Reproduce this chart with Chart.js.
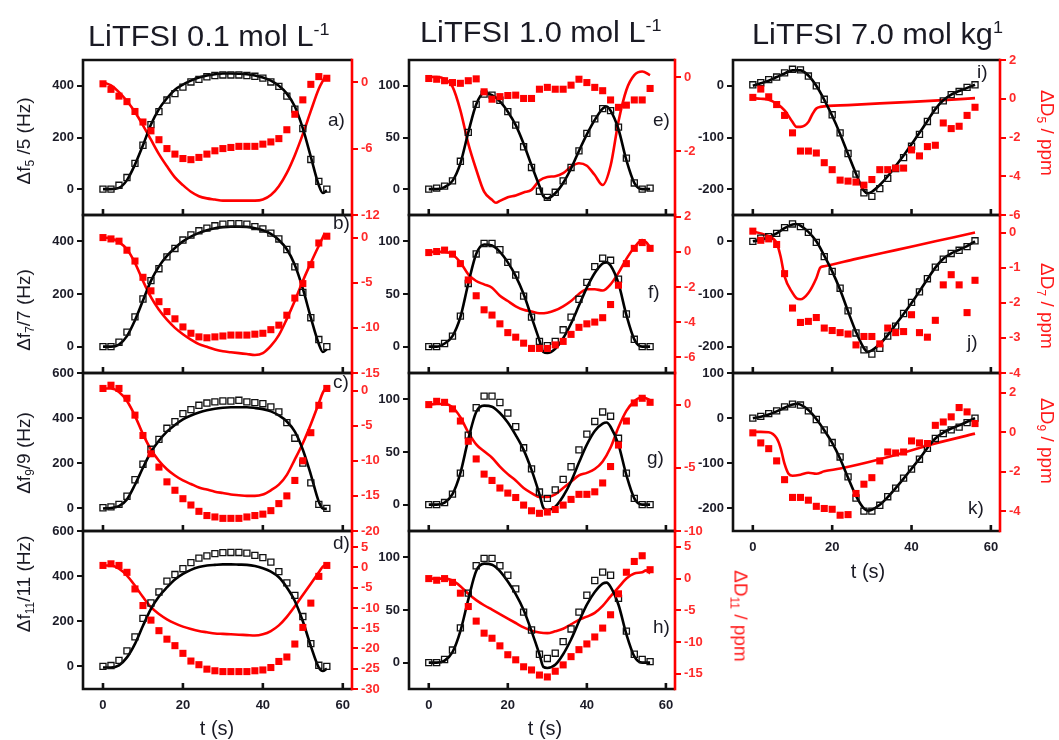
<!DOCTYPE html>
<html>
<head>
<meta charset="utf-8">
<script src="https://cdn.jsdelivr.net/npm/chart.js@4.4.1/dist/chart.umd.min.js"></script>
<style>
  html, body { margin: 0; padding: 0; background: #fff; }
  #wrap { position: relative; width: 1059px; height: 740px; overflow: hidden;
          font-family: "Liberation Sans", Arial, sans-serif; }
  #wrap canvas { position: absolute; left: 0; top: 0; }
  .txt { position: absolute; white-space: nowrap; line-height: 1; color: #1a1a24; }
  .title { font-size: 29px; transform: scaleX(1.06); transform-origin: 0 0; }
  .title .sup { font-size: 17px; position: relative; top: -11px; }
  .ylab { font-size: 19px; transform: translate(-50%, -50%) rotate(-90deg); }
  .rlab { font-size: 19px; color: #ff1a1a; transform: translate(-50%, -50%) rotate(90deg); }
  .sub { font-size: 12px; position: relative; top: 4px; }
  .xlab { font-size: 20px; transform: translateX(-50%); }
  .plab { font-size: 19px; }
</style>
</head>
<body>
<div id="wrap">
  <div class="txt title" style="left:88px;top:22px">LiTFSI 0.1 mol L<span class="sup">-1</span></div>
  <div class="txt title" style="left:420px;top:18px">LiTFSI 1.0 mol L<span class="sup">-1</span></div>
  <div class="txt title" style="left:752px;top:20px">LiTFSI 7.0 mol kg<span class="sup">1</span></div>

  <div class="txt ylab" style="left:23px;top:141px">Δf<span class="sub">5</span> /5 (Hz)</div>
  <div class="txt ylab" style="left:23px;top:310px">Δf<span class="sub">7</span>/7 (Hz)</div>
  <div class="txt ylab" style="left:23px;top:453px">Δf<span class="sub">9</span>/9 (Hz)</div>
  <div class="txt ylab" style="left:23px;top:584px">Δf<span class="sub">11</span>/11 (Hz)</div>

  <div class="txt rlab" style="left:1047px;top:133px">ΔD<span class="sub">5</span> / ppm</div>
  <div class="txt rlab" style="left:1047px;top:306px">ΔD<span class="sub">7</span> / ppm</div>
  <div class="txt rlab" style="left:1047px;top:441px">ΔD<span class="sub">9</span> / ppm</div>
  <div class="txt rlab" style="left:741px;top:616px">ΔD<span class="sub">11</span> / ppm</div>

  <div class="txt xlab" style="left:217px;top:718px">t (s)</div>
  <div class="txt xlab" style="left:545px;top:718px">t (s)</div>
  <div class="txt xlab" style="left:868px;top:561px">t (s)</div>

  <div class="txt plab" style="left:328px;top:110px">a)</div>
  <div class="txt plab" style="left:333px;top:213px">b)</div>
  <div class="txt plab" style="left:333px;top:372px">c)</div>
  <div class="txt plab" style="left:333px;top:533px">d)</div>
  <div class="txt plab" style="left:653px;top:110px">e)</div>
  <div class="txt plab" style="left:648px;top:282px">f)</div>
  <div class="txt plab" style="left:647px;top:448px">g)</div>
  <div class="txt plab" style="left:653px;top:617px">h)</div>
  <div class="txt plab" style="left:977px;top:62px">i)</div>
  <div class="txt plab" style="left:967px;top:332px">j)</div>
  <div class="txt plab" style="left:968px;top:498px">k)</div>
</div>

<script>
// Sampling times of the measured points (s)
const TIMES = [0,2,4,6,8,10,12,14,16,18,20,22,24,26,28,30,32,34,36,38,40,42,44,46,48,50,52,54,56];
const X_TICKS = [0, 20, 40, 60];

// ---------- LiTFSI 0.1 mol/L ----------
// a) Δf5/5 and ΔD5
const A_F_SQ = [0,0,15,45,100,170,250,300,345,370,395,415,425,435,440,442,442,442,440,437,430,415,398,360,310,235,115,30,0];
const A_F_FIT = [[0,0],[2,0],[4,5],[6,35],[8,95],[10,170],[12,250],[14,310],[16,352],[18,385],[20,405],[22,420],[24,432],[26,440],[28,445],[30,448],[32,448],[34,447],[36,445],[38,440],[40,432],[42,420],[44,400],[46,370],[48,320],[50,235],[52,125],[54,15],[55,-15],[56,-5]];
const A_D_SQ = [-0.15,-0.65,-1.26,-1.76,-2.65,-3.6,-4.4,-5.2,-6.0,-6.5,-6.9,-7.0,-6.8,-6.5,-6.2,-6.0,-5.9,-5.8,-5.8,-5.8,-5.6,-5.4,-5.1,-4.3,-2.9,-1.6,-0.2,0.5,0.35];
const A_D_FIT = [[0,0],[2,-0.3],[4,-0.9],[6,-1.7],[8,-2.7],[10,-3.9],[12,-5.2],[14,-6.5],[16,-7.6],[18,-8.6],[20,-9.3],[22,-9.9],[24,-10.3],[26,-10.5],[28,-10.6],[30,-10.7],[32,-10.7],[34,-10.7],[36,-10.7],[38,-10.7],[40,-10.6],[42,-10.2],[44,-9.4],[46,-8.2],[48,-6.6],[50,-4.7],[52,-2.6],[54,-0.6],[55.5,0.45]];
const A_F_TICKS = [0,200,400];
const A_D_TICKS = [0,-6,-12];

// b) Δf7/7 and ΔD7
const B_F_SQ = [0,0,17,55,113,181,251,296,341,373,405,424,440,450,459,465,467,467,465,456,447,431,409,369,303,206,110,27,0];
const B_F_FIT = [[0,0],[2,0],[4,8],[6,40],[8,100],[10,175],[12,250],[14,305],[16,345],[18,375],[20,400],[22,418],[24,432],[26,442],[28,450],[30,454],[32,456],[34,456],[36,455],[38,450],[40,442],[42,428],[44,405],[46,370],[48,310],[50,220],[52,110],[54,10],[55,-20],[56,-10]];
const B_D_SQ = [0,-0.15,-0.4,-1.4,-2.6,-4.4,-5.9,-7.1,-8.2,-9.0,-9.9,-10.6,-11.0,-11.1,-11.0,-10.9,-10.8,-10.8,-10.8,-10.7,-10.6,-10.2,-9.7,-8.6,-6.7,-5.1,-3.0,-0.6,0.15];
const B_D_FIT = [[0,0],[2,-0.1],[4,-0.5],[6,-1.3],[8,-2.8],[10,-4.8],[12,-6.6],[14,-8.0],[16,-9.1],[18,-10.0],[20,-10.7],[22,-11.3],[24,-11.8],[26,-12.1],[28,-12.4],[30,-12.6],[32,-12.7],[34,-12.8],[36,-12.9],[38,-13.0],[40,-12.8],[42,-12.0],[44,-10.8],[46,-9.0],[48,-7.0],[50,-4.8],[52,-2.8],[54,-0.9],[55.5,0.5]];
const B_F_TICKS = [0,200,400];
const B_D_TICKS = [0,-5,-10,-15];

// c) Δf9/9 and ΔD9
const C_F_SQ = [3,7,18,54,127,196,262,306,355,384,420,438,457,467,472,476,476,479,472,469,464,450,428,380,311,201,113,18,0];
const C_F_FIT = [[0,0],[2,2],[4,10],[6,40],[8,105],[10,180],[12,250],[14,300],[16,340],[18,370],[20,395],[22,412],[24,425],[26,435],[28,442],[30,446],[32,448],[34,448],[36,448],[38,445],[40,440],[42,430],[44,412],[46,385],[48,340],[50,260],[52,150],[54,30],[55,0],[56,-2]];
const C_D_SQ = [0.3,0.76,0.3,-1.1,-3.5,-6.4,-9.0,-10.9,-13.0,-14.2,-15.4,-16.3,-17.2,-17.8,-18.0,-18.2,-18.2,-18.2,-18.0,-17.8,-17.6,-17.1,-16.1,-15.0,-12.8,-10.0,-6.0,-2.1,0.3];
const C_D_FIT = [[0,0.3],[2,0.3],[4,-0.2],[6,-1.5],[8,-3.6],[10,-6.2],[12,-8.4],[14,-10.0],[16,-11.2],[18,-12.1],[20,-12.8],[22,-13.3],[24,-13.8],[26,-14.1],[28,-14.4],[30,-14.6],[32,-14.8],[34,-14.9],[36,-15.0],[38,-15.0],[40,-14.8],[42,-14.2],[44,-13.4],[46,-12.0],[48,-9.8],[50,-7.5],[52,-4.8],[54,-1.8],[55,-0.3],[56,0.6]];
const C_F_TICKS = [0,200,400,600];
const C_D_TICKS = [0,-5,-10,-15,-20];

// d) Δf11/11 and ΔD11
const D_F_SQ = [0,4,27,69,131,213,281,330,378,407,433,460,480,490,500,504,505,505,502,492,482,462,420,370,315,221,101,5,0];
const D_F_FIT = [[0,-5],[2,-5],[4,5],[6,40],[8,100],[10,180],[12,255],[14,310],[16,350],[18,385],[20,410],[22,428],[24,440],[26,447],[28,450],[30,452],[32,452],[34,451],[36,450],[38,445],[40,435],[42,420],[44,395],[46,350],[48,290],[50,200],[52,90],[54,-5],[55,-20],[56,-10]];
const D_D_SQ = [0.5,0.9,0.5,-1.2,-5.3,-9.4,-13.0,-15.6,-17.7,-19.3,-21.2,-23.1,-24.0,-25.1,-25.5,-25.7,-25.7,-25.7,-25.7,-25.5,-25.3,-24.7,-23.2,-22.1,-18.9,-14.8,-8.8,-2.2,0.5];
const D_D_FIT = [[0,0.5],[2,0.5],[4,-0.3],[6,-2.0],[8,-4.5],[10,-7.3],[12,-9.8],[14,-11.5],[16,-12.8],[18,-13.8],[20,-14.6],[22,-15.2],[24,-15.7],[26,-16.0],[28,-16.3],[30,-16.4],[32,-16.5],[34,-16.6],[36,-16.7],[38,-16.8],[40,-16.5],[42,-15.7],[44,-14.3],[46,-12.2],[48,-9.6],[50,-6.8],[52,-4.0],[54,-1.2],[55,0.2],[56,0.8]];
const D_F_TICKS = [0,200,400,600];
const D_D_TICKS = [5,0,-5,-10,-15,-20,-25,-30];

// ---------- LiTFSI 1.0 mol/L ----------
// e)
const E_F_SQ = [0,1,3,8,27,55,82,92,91,86,75,62,41,21,-2,-8,-3,8,21,37,54,68,78,76,60,30,6,0,1];
const E_F_FIT = [[0,0],[2,0],[4,2],[6,8],[8,25],[10,55],[12,82],[14,93],[16,91],[18,85],[20,75],[22,62],[24,44],[26,23],[28,3],[29,-7],[30,-9],[32,-4],[34,6],[36,20],[38,37],[40,53],[42,67],[44,78],[45,80],[46,76],[48,58],[50,28],[52,6],[54,0],[56,0]];
const E_D_SQ = [-0.04,-0.06,-0.1,-0.15,-0.17,-0.1,-0.05,-0.4,-0.6,-0.53,-0.5,-0.49,-0.58,-0.58,-0.33,-0.28,-0.33,-0.33,-0.22,-0.06,-0.15,-0.28,-0.37,-0.62,-0.82,-0.76,-0.62,-0.62,-0.31];
const E_D_FIT = [[0,0],[2,0],[4,-0.05],[6,-0.26],[8,-0.9],[10,-1.8],[12,-2.5],[14,-3.1],[16,-3.32],[17,-3.4],[18,-3.35],[20,-3.25],[22,-3.2],[24,-3.12],[26,-3.05],[28,-2.8],[30,-2.7],[32,-2.68],[34,-2.6],[36,-2.42],[38,-2.33],[40,-2.4],[42,-2.65],[44,-2.92],[46,-2.4],[48,-1.2],[50,-0.35],[52,0.05],[54,0.15],[56,0.05]];
const E_F_TICKS = [0,50,100];
const E_D_TICKS = [0,-2];

// f)
const F_F_SQ = [0,0,3,10,29,60,88,98,98,92,80,68,48,28,5,1,5,16,28,45,61,76,84,82,64,31,7,0,0];
const F_F_FIT = [[0,0],[2,0],[4,3],[6,10],[8,28],[10,60],[12,88],[14,97],[16,96],[18,90],[20,80],[22,67],[24,50],[26,28],[28,6],[29,-5],[30,-6],[32,-2],[34,8],[36,22],[38,39],[40,56],[42,70],[44,79],[45,80],[46,77],[48,60],[50,30],[52,7],[54,0],[56,0]];
const F_D_SQ = [-0.04,0.02,0.1,-0.13,-0.67,-1.6,-2.5,-3.3,-3.6,-4.1,-4.6,-4.86,-5.2,-5.5,-5.5,-5.5,-5.3,-5.1,-4.7,-4.3,-4.1,-4.0,-3.75,-3.0,-1.9,-0.67,0.2,0.53,0.2];
const F_D_FIT = [[0,0],[2,0],[4,0],[6,-0.15],[8,-0.6],[10,-1.28],[12,-1.66],[14,-1.85],[16,-2.04],[18,-2.5],[20,-2.8],[22,-3.1],[24,-3.3],[26,-3.4],[28,-3.5],[30,-3.47],[32,-3.33],[34,-3.1],[36,-2.8],[38,-2.4],[40,-2.13],[42,-2.13],[44,-2.2],[46,-1.85],[48,-1.2],[50,-0.4],[52,0.25],[54,0.67],[55,0.55],[56,0.25]];
const F_F_TICKS = [0,50,100];
const F_D_TICKS = [2,0,-2,-4,-6];

// g)
const G_F_SQ = [0,0,2,10,30,66,92,103,103,97,87,74,54,34,12,6,14,24,36,52,67,79,88,84,63,30,6,0,0];
const G_F_FIT = [[0,0],[2,0],[4,2],[6,10],[8,30],[10,62],[12,88],[14,94],[16,93],[18,87],[20,78],[22,66],[24,52],[26,33],[28,10],[29,-3],[30,-5],[32,-2],[34,8],[36,22],[38,40],[40,57],[42,70],[44,77],[45,78],[46,74],[48,57],[50,28],[52,6],[54,0],[56,0]];
const G_D_SQ = [0,0.26,0.18,-0.34,-1.3,-2.9,-4.3,-5.5,-6.0,-6.6,-7.0,-7.35,-7.95,-8.4,-8.6,-8.5,-8.3,-7.95,-7.5,-7.1,-7.1,-6.9,-6.2,-4.9,-3.2,-1.3,0.13,0.5,0.18];
const G_D_FIT = [[0,0],[2,0.05],[4,0.05],[6,-0.2],[8,-1.0],[10,-2.2],[12,-3.15],[14,-3.7],[16,-4.2],[18,-4.9],[20,-5.5],[22,-6.0],[24,-6.6],[26,-7.0],[28,-7.3],[30,-7.3],[32,-7.1],[34,-6.6],[36,-6.1],[38,-5.6],[40,-5.4],[42,-5.1],[44,-4.5],[46,-3.4],[48,-1.8],[50,-0.5],[52,0.26],[54,0.6],[56,0.34]];
const G_F_TICKS = [0,50,100];
const G_D_TICKS = [0,-5,-10];

// h)
const H_F_SQ = [0,0,3,12,33,66,92,99,99,92,83,70,48,31,8,4,9,20,32,48,64,78,86,83,61,30,8,3,1];
const H_F_FIT = [[0,0],[2,0],[4,2],[6,10],[8,30],[10,60],[12,87],[14,94],[16,93],[18,87],[20,77],[22,65],[24,50],[26,30],[28,8],[29,-4],[30,-5],[32,-2],[34,8],[36,22],[38,39],[40,55],[42,67],[44,75],[45,76],[46,72],[48,55],[50,27],[52,6],[54,0],[56,0]];
const H_D_SQ = [0,-0.26,0,-0.6,-2.3,-4.4,-6.7,-8.6,-9.4,-10.6,-12.0,-12.8,-13.9,-14.4,-15.2,-15.5,-14.6,-13.6,-12.3,-11.2,-10.3,-9.2,-7.8,-5.7,-2.4,1.0,2.7,3.6,1.4];
const H_D_FIT = [[0,0],[2,0],[4,0],[6,-0.3],[8,-1.2],[10,-2.4],[12,-3.4],[14,-4.2],[16,-4.9],[18,-5.6],[20,-6.3],[22,-7.0],[24,-7.7],[26,-8.2],[28,-8.5],[30,-8.6],[32,-8.3],[34,-7.9],[36,-7.2],[38,-6.5],[40,-6.0],[42,-5.4],[44,-4.3],[46,-2.8],[48,-1.4],[50,0],[52,0.8],[54,1.0],[55,1.3],[56,0.8]];
const H_F_TICKS = [0,50,100];
const H_D_TICKS = [5,0,-5,-10,-15];

// ---------- LiTFSI 7.0 mol/kg ----------
// i)
const I_F_SQ = [2,6,12,17,25,32,31,19,0,-26,-56,-91,-131,-171,-207,-214,-199,-179,-160,-139,-117,-94,-69,-47,-29,-17,-11,-3,2];
const I_F_FIT = [[0,0],[2,5],[4,10],[6,17],[8,24],[10,30],[12,30],[14,20],[16,0],[18,-27],[20,-58],[22,-93],[24,-132],[26,-170],[28,-203],[29,-208],[30,-205],[32,-192],[34,-175],[36,-155],[38,-135],[40,-113],[42,-91],[44,-68],[46,-45],[48,-28],[50,-17],[52,-10],[54,-4],[56,2]];
const I_D_SQ = [0.07,0.5,0.1,-0.3,-0.86,-1.76,-2.7,-2.7,-2.8,-3.3,-3.66,-4.2,-4.25,-4.3,-4.46,-4.17,-3.66,-3.66,-3.58,-3.58,-2.64,-2.95,-2.47,-2.4,-1.25,-1.54,-1.42,-0.86,-0.44];
const I_D_FIT = [[0,0.03],[2,0],[4,-0.05],[6,-0.25],[8,-0.6],[10,-1.2],[11,-1.45],[12,-1.45],[14,-1.2],[15,-0.8],[16,-0.5],[17,-0.42],[24,-0.33],[32,-0.24],[40,-0.16],[48,-0.07],[56,0.03]];
const I_F_TICKS = [-200,-100,0];
const I_D_TICKS = [2,0,-2,-4,-6];

// j)
const J_F_SQ = [0,6,9,15,26,33,28,17,-2,-29,-57,-89,-132,-174,-206,-214,-203,-180,-161,-137,-116,-96,-71,-49,-34,-23,-17,-10,1];
const J_F_FIT = [[0,0],[2,3],[4,8],[6,15],[8,25],[10,32],[11,33],[12,30],[14,18],[16,0],[18,-27],[20,-57],[22,-92],[24,-133],[26,-172],[28,-203],[29,-210],[30,-207],[32,-195],[34,-178],[36,-158],[38,-138],[40,-117],[42,-95],[44,-72],[46,-50],[48,-33],[50,-23],[52,-16],[54,-9],[56,0]];
const J_D_SQ = [0.04,-0.22,-0.18,-0.34,-1.17,-2.15,-2.56,-2.53,-2.42,-2.72,-2.79,-2.85,-2.89,-3.2,-2.96,-2.96,-3.17,-2.72,-2.85,-2.82,-2.34,-2.85,-2.98,-2.5,-1.49,-1.2,-1.49,-2.28,-1.36];
const J_D_FIT = [[0,0.04],[2,-0.03],[4,-0.1],[6,-0.3],[7,-0.68],[8,-1.25],[10,-1.72],[11,-1.87],[12,-1.9],[14,-1.72],[16,-1.3],[17,-1.0],[18,-0.96],[26,-0.75],[36,-0.5],[46,-0.25],[56,0]];
const J_F_TICKS = [-200,-100,0];
const J_D_TICKS = [0,-1,-2,-3,-4];

// k)
const K_F_SQ = [0,4,10,16,25,31,29,16,-3,-26,-54,-86,-130,-177,-206,-206,-193,-174,-155,-133,-113,-91,-67,-45,-34,-26,-20,-10,0];
const K_F_FIT = [[0,0],[2,3],[4,8],[6,15],[8,23],[10,30],[11,32],[12,30],[14,18],[16,-2],[18,-27],[20,-55],[22,-90],[24,-132],[26,-172],[28,-200],[29,-205],[30,-203],[32,-192],[34,-175],[36,-155],[38,-134],[40,-112],[42,-90],[44,-66],[46,-45],[48,-32],[50,-23],[52,-16],[54,-8],[56,0]];
const K_D_SQ = [-0.03,-0.54,-0.83,-1.45,-2.4,-3.3,-3.3,-3.44,-3.75,-3.86,-3.9,-4.2,-4.17,-3.1,-2.63,-2.3,-1.45,-1.0,-1.05,-1.0,-0.44,-0.54,-0.57,0.35,0.52,0.78,1.25,1.03,0.44];
const K_D_FIT = [[0,0.02],[2,0.02],[4,0],[6,-0.3],[7,-0.8],[8,-1.6],[9,-2.1],[10,-2.2],[12,-2.15],[14,-2.05],[16,-2.1],[18,-1.98],[22,-1.84],[32,-1.37],[46,-0.57],[56,-0.07]];
const K_F_TICKS = [-200,-100,0,100];
const K_D_TICKS = [2,0,-2,-4];

// ---------- panel layout (plot boxes in page pixels, axis ranges) ----------
const COL = [[83, 352], [409, 675], [733, 1000]];
const ROW = [[60, 215], [215, 373], [373, 531], [531, 689]];
const PANELS = [
  { col:0, row:0, fRange:[-100,500], dRange:[-12,2],     fSq:A_F_SQ, fFit:A_F_FIT, dSq:A_D_SQ, dFit:A_D_FIT, fT:A_F_TICKS, dT:A_D_TICKS },
  { col:0, row:1, fRange:[-100,500], dRange:[-15,2.5],   fSq:B_F_SQ, fFit:B_F_FIT, dSq:B_D_SQ, dFit:B_D_FIT, fT:B_F_TICKS, dT:B_D_TICKS },
  { col:0, row:2, fRange:[-100,600], dRange:[-20,2.5],   fSq:C_F_SQ, fFit:C_F_FIT, dSq:C_D_SQ, dFit:C_D_FIT, fT:C_F_TICKS, dT:C_D_TICKS },
  { col:0, row:3, fRange:[-100,600], dRange:[-30,9],     fSq:D_F_SQ, fFit:D_F_FIT, dSq:D_D_SQ, dFit:D_D_FIT, fT:D_F_TICKS, dT:D_D_TICKS, xLabels:true },
  { col:1, row:0, fRange:[-25,125],  dRange:[-3.73,0.46],fSq:E_F_SQ, fFit:E_F_FIT, dSq:E_D_SQ, dFit:E_D_FIT, fT:E_F_TICKS, dT:E_D_TICKS },
  { col:1, row:1, fRange:[-25,125],  dRange:[-6.9,2.1],  fSq:F_F_SQ, fFit:F_F_FIT, dSq:F_D_SQ, dFit:F_D_FIT, fT:F_F_TICKS, dT:F_D_TICKS },
  { col:1, row:2, fRange:[-25,125],  dRange:[-10,2.5],   fSq:G_F_SQ, fFit:G_F_FIT, dSq:G_D_SQ, dFit:G_D_FIT, fT:G_F_TICKS, dT:G_D_TICKS },
  { col:1, row:3, fRange:[-25,125],  dRange:[-17.4,7.5], fSq:H_F_SQ, fFit:H_F_FIT, dSq:H_D_SQ, dFit:H_D_FIT, fT:H_F_TICKS, dT:H_D_TICKS, xLabels:true },
  { col:2, row:0, fRange:[-250,50],  dRange:[-6,2],      fSq:I_F_SQ, fFit:I_F_FIT, dSq:I_D_SQ, dFit:I_D_FIT, fT:I_F_TICKS, dT:I_D_TICKS },
  { col:2, row:1, fRange:[-250,50],  dRange:[-4,0.5],    fSq:J_F_SQ, fFit:J_F_FIT, dSq:J_D_SQ, dFit:J_D_FIT, fT:J_F_TICKS, dT:J_D_TICKS },
  { col:2, row:2, fRange:[-250,100], dRange:[-5,3],      fSq:K_F_SQ, fFit:K_F_FIT, dSq:K_D_SQ, dFit:K_D_FIT, fT:K_F_TICKS, dT:K_D_TICKS, xLabels:true }
];

const W = 1059, H = 740, AXW = 50, XLAB_H = 30;
const RED = '#ff0000', INK = '#111111';
const TICK_FONT = { family: '"Liberation Sans", Arial, sans-serif', size: 13, weight: 'bold' };

// Frame: black left/top/bottom edges, red right edge, inward ticks on the time axis
const framePlugin = {
  id: 'frame',
  afterDraw(chart) {
    const { ctx, chartArea: { left, top, right, bottom }, scales: { x } } = chart;
    ctx.save();
    ctx.lineWidth = 2.6;
    ctx.strokeStyle = INK;
    ctx.beginPath();
    ctx.moveTo(right, top); ctx.lineTo(left, top); ctx.lineTo(left, bottom); ctx.lineTo(right, bottom);
    for (const v of X_TICKS) {
      const px = x.getPixelForValue(v);
      ctx.moveTo(px, bottom); ctx.lineTo(px, bottom - 6);
    }
    ctx.stroke();
    ctx.strokeStyle = RED;
    ctx.beginPath();
    ctx.moveTo(right, top - 1.3); ctx.lineTo(right, bottom + 1.3);
    ctx.stroke();
    ctx.restore();
  }
};

const wrap = document.getElementById('wrap');
const fixedTicks = list => scale => { scale.ticks = list.map(v => ({ value: v })); };

for (const p of PANELS) {
  const [L, R] = COL[p.col];
  const [T, B] = ROW[p.row];
  const xh = p.xLabels ? XLAB_H : 0;
  const cv = document.createElement('canvas');
  cv.width = W; cv.height = H;
  cv.style.width = W + 'px'; cv.style.height = H + 'px';
  wrap.insertBefore(cv, wrap.firstChild);

  new Chart(cv, {
    type: 'line',
    data: {
      datasets: [
        { data: TIMES.map((t, i) => ({ x: t, y: p.dSq[i] })), yAxisID: 'yD', showLine: false,
          pointStyle: 'rect', pointRadius: 5, pointBackgroundColor: RED, pointBorderColor: RED, pointBorderWidth: 0 },
        { data: TIMES.map((t, i) => ({ x: t, y: p.fSq[i] })), yAxisID: 'yF', showLine: false,
          pointStyle: 'rect', pointRadius: 4.3, pointBackgroundColor: 'rgba(0,0,0,0)', pointBorderColor: INK, pointBorderWidth: 1.3 },
        { data: p.fFit.map(([x, y]) => ({ x, y })), yAxisID: 'yF', borderColor: '#000', borderWidth: 2.6,
          pointRadius: 0, cubicInterpolationMode: 'monotone' },
        { data: p.dFit.map(([x, y]) => ({ x, y })), yAxisID: 'yD', borderColor: RED, borderWidth: 2.6,
          pointRadius: 0, cubicInterpolationMode: 'monotone' }
      ]
    },
    options: {
      responsive: false, animation: false, devicePixelRatio: 1,
      layout: { padding: { left: L - AXW, right: W - R - AXW, top: T, bottom: H - B - xh } },
      plugins: { legend: { display: false }, tooltip: { enabled: false } },
      scales: {
        x: {
          type: 'linear', position: 'bottom', min: -5, max: 62.3,
          afterBuildTicks: fixedTicks(X_TICKS),
          afterFit: s => { s.height = xh; },
          grid: { display: false, drawTicks: false }, border: { display: false },
          ticks: { display: !!p.xLabels, font: TICK_FONT, color: '#1c1c28', padding: 9, maxRotation: 0 }
        },
        yF: {
          type: 'linear', position: 'left', min: p.fRange[0], max: p.fRange[1],
          afterBuildTicks: fixedTicks(p.fT),
          afterFit: s => { s.width = AXW; },
          grid: { display: true, drawOnChartArea: false, drawTicks: true, tickLength: 6, lineWidth: 2, color: INK },
          border: { display: false },
          ticks: { font: TICK_FONT, color: '#1c1c28', padding: 3 }
        },
        yD: {
          type: 'linear', position: 'right', min: p.dRange[0], max: p.dRange[1],
          afterBuildTicks: fixedTicks(p.dT),
          afterFit: s => { s.width = AXW; },
          grid: { display: true, drawOnChartArea: false, drawTicks: true, tickLength: 6, lineWidth: 2, color: RED },
          border: { display: false },
          ticks: { font: TICK_FONT, color: '#ff2a2a', padding: 3 }
        }
      }
    },
    plugins: [framePlugin]
  });
}
</script>
</body>
</html>
